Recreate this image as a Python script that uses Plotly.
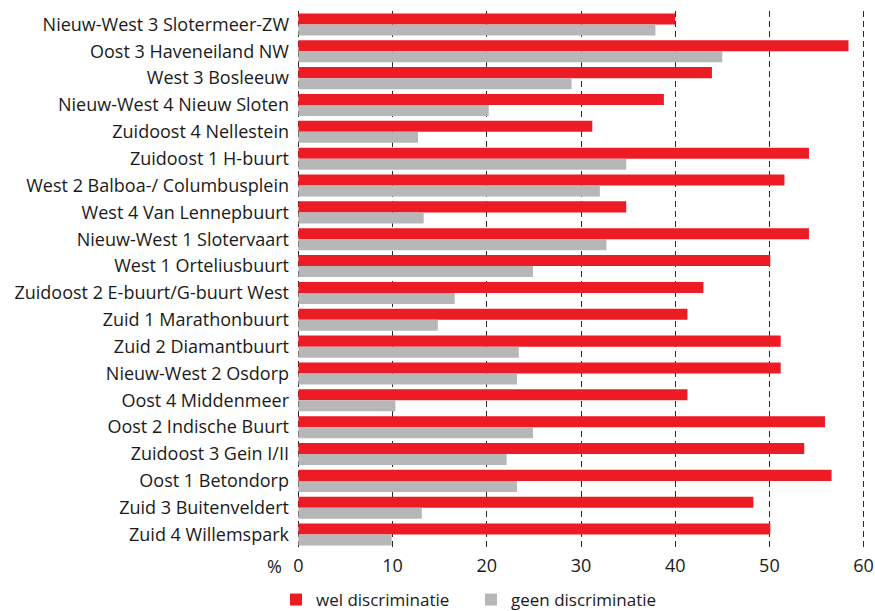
import plotly.graph_objects as go

categories = [
    "Nieuw-West 3 Slotermeer-ZW", "Oost 3 Haveneiland NW", "West 3 Bosleeuw",
    "Nieuw-West 4 Nieuw Sloten", "Zuidoost 4 Nellestein", "Zuidoost 1 H-buurt",
    "West 2 Balboa-/ Columbusplein", "West 4 Van Lennepbuurt", "Nieuw-West 1 Slotervaart",
    "West 1 Orteliusbuurt", "Zuidoost 2 E-buurt/G-buurt West", "Zuid 1 Marathonbuurt",
    "Zuid 2 Diamantbuurt", "Nieuw-West 2 Osdorp", "Oost 4 Middenmeer",
    "Oost 2 Indische Buurt", "Zuidoost 3 Gein I/II", "Oost 1 Betondorp",
    "Zuid 3 Buitenveldert", "Zuid 4 Willemspark",
]
wel = [40.0, 58.4, 43.9, 38.8, 31.2, 54.2, 51.6, 34.8, 54.2, 50.1,
       43.0, 41.3, 51.2, 51.2, 41.3, 55.9, 53.7, 56.6, 48.3, 50.1]
geen = [37.9, 45.0, 29.0, 20.2, 12.7, 34.8, 32.0, 13.3, 32.7, 24.9,
        16.6, 14.8, 23.4, 23.2, 10.3, 24.9, 22.1, 23.2, 13.1, 9.9]
tick_vals = [0, 10, 20, 30, 40, 50, 60]

FONT = "Open Sans"
fig = go.Figure()
fig.add_trace(go.Bar(y=categories, x=wel, orientation="h", name="wel discriminatie",
                     marker=dict(color="#ED1C24", line=dict(width=0))))
fig.add_trace(go.Bar(y=categories, x=geen, orientation="h", name="geen discriminatie",
                     marker=dict(color="#B7B7B9", line=dict(width=0))))

fig.update_layout(
    width=875, height=611,
    margin=dict(l=297, r=10, t=11, b=63),
    paper_bgcolor="white", plot_bgcolor="white",
    barmode="group", bargap=0.18, bargroupgap=0,
    font=dict(family=FONT, size=17, color="#1a1a1a"),
    showlegend=True,
    legend=dict(orientation="h", x=-0.037, xanchor="left",
                yref="container", y=0.018, yanchor="middle",
                font=dict(size=17), itemwidth=30, tracegroupgap=0,
                entrywidth=150, entrywidthmode="pixels"),
)
fig.update_xaxes(range=[-0.15, 60.15], tickvals=tick_vals, showgrid=True, gridcolor="#2a2a2a",
                 griddash="6px,4px", gridwidth=1.3, zeroline=False, showline=False,
                 ticks="", ticklabelstandoff=5, tickfont=dict(size=18), automargin=False)
fig.update_yaxes(autorange="reversed", showgrid=False, zeroline=False, showline=False,
                 ticks="", ticklabelstandoff=7, tickfont=dict(size=18), automargin=False)
fig.add_annotation(text="%", x=0, xref="paper", xanchor="right", xshift=-13,
                   y=0, yref="paper", yanchor="top", yshift=-4,
                   showarrow=False, font=dict(size=18))
# remove the default 8px page margin so the 875x611 figure fills the window exactly
fig.write_html("out.html", config={"displayModeBar": False},
               post_script="document.body.style.margin='0';")
